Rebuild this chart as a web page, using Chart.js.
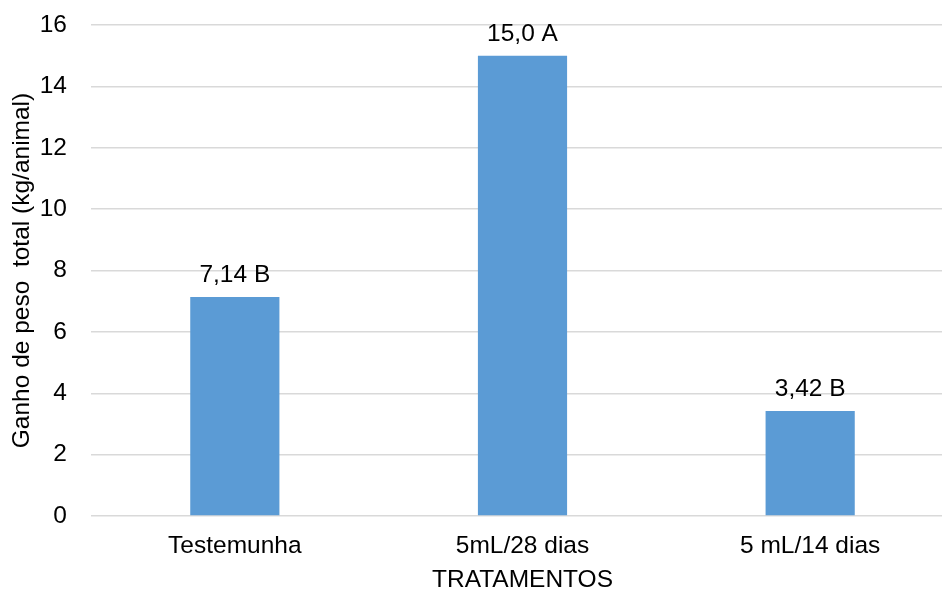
<!DOCTYPE html>
<html>
<head>
<meta charset="utf-8">
<script src="https://cdn.jsdelivr.net/npm/chart.js@4.4.0/dist/chart.umd.min.js"></script>
<style>
    html, body { margin: 0; padding: 0; background: #fff; overflow: hidden; }
    .wrap { position: absolute; left: 0; top: 0; width: 960px; height: 592px; }
</style>
</head>
<body>
<div class="wrap"><canvas id="ganhoChart"></canvas></div>
<script>
const tratamentos = ["Testemunha", "5mL/28 dias", "5 mL/14 dias"];
const ganhoPeso = [7.14, 15.0, 3.42];
const letras = ["B", "A", "B"];
const rotulos = ["7,14 B", "15,0 A", "3,42 B"];

const fonte = "'Liberation Sans', Arial, sans-serif";
const tam = 24.5;

// escreve o valor + letra em cima de cada barra
const rotuloBarras = {
    id: "rotuloBarras",
    afterDatasetsDraw(chart) {
        const ctx = chart.ctx;
        const meta = chart.getDatasetMeta(0);
        ctx.save();
        ctx.font = tam + "px " + fonte;
        ctx.fillStyle = "#000";
        ctx.textAlign = "center";
        ctx.textBaseline = "alphabetic";
        meta.data.forEach((bar, i) => {
            ctx.fillText(rotulos[i], bar.x, bar.y - 15);
        });
        ctx.restore();
    }
};

new Chart(document.getElementById("ganhoChart"), {
    type: "bar",
    data: {
        labels: tratamentos,
        datasets: [{
            label: "Ganho de peso total",
            data: ganhoPeso,
            backgroundColor: "#5B9BD5",
            borderWidth: 0,
            barPercentage: 0.31,
            categoryPercentage: 1
        }]
    },
    options: {
        responsive: true,
        maintainAspectRatio: false,
        animation: false,
        layout: { padding: { top: 25, right: 6, left: 0, bottom: 0 } },
        plugins: {
            legend: { display: false },
            tooltip: { enabled: false }
        },
        scales: {
            x: {
                grid: { display: false, drawTicks: false },
                border: { display: false },
                ticks: { color: "#000", font: { family: fonte, size: tam }, padding: 16 },
                title: {
                    display: true,
                    text: "TRATAMENTOS",
                    color: "#000",
                    font: { family: fonte, size: tam },
                    padding: { top: 0, bottom: -3 }
                },
                afterFit(scale) { scale.height = 76; }
            },
            y: {
                min: 0,
                max: 16,
                ticks: { stepSize: 2, color: "#000", font: { family: fonte, size: tam }, padding: 24 },
                grid: { color: "#D9D9D9", lineWidth: 1.5, drawTicks: false },
                border: { display: false },
                title: {
                    display: true,
                    text: "Ganho de peso  total (kg/animal)",
                    color: "#000",
                    font: { family: fonte, size: tam },
                    padding: { top: 8, bottom: 0 }
                },
                afterFit(scale) {
                    scale.width = 91;
                    scale.paddingTop = 0;
                    scale.paddingBottom = 0;
                }
            }
        }
    },
    plugins: [rotuloBarras]
});
</script>
</body>
</html>
